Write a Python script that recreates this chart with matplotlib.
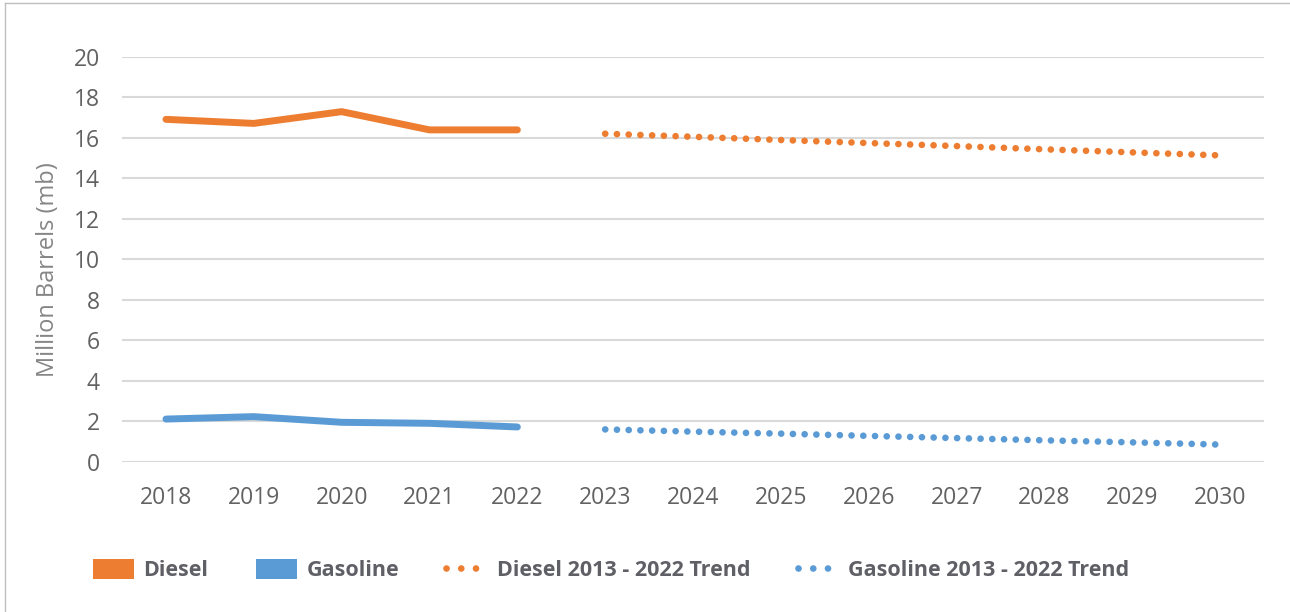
import matplotlib
matplotlib.use("Agg")
import matplotlib.pyplot as plt
from matplotlib.lines import Line2D
from matplotlib.patches import Patch

#data section
years = ["2018", "2019", "2020", "2021", "2022", "2023", "2024",
         "2025", "2026", "2027", "2028", "2029", "2030"]

diesel = [16.92, 16.72, 17.3, 16.4, 16.4]          #actual, 2018-2022
gasoline = [2.12, 2.24, 1.96, 1.91, 1.73]

diesel_trend = [16.21, 16.06, 15.90, 15.75, 15.60, 15.44, 15.29, 15.14]   #2023-2030
gasoline_trend = [1.61, 1.50, 1.40, 1.29, 1.18, 1.07, 0.97, 0.86]

ORANGE = "#ED7D31"
BLUE = "#5B9BD5"

plt.rcParams["font.family"] = ["Open Sans", "DejaVu Sans"]

fig = plt.figure(figsize=(12.9, 6.12), dpi=100)
ax = fig.add_axes([0.0946, 0.2451, 0.8853, 0.6618])

x_actual = list(range(len(diesel)))
x_trend = list(range(len(diesel), len(diesel) + len(diesel_trend)))

#solid lines for the historical values
ax.plot(x_actual, diesel, color=ORANGE, lw=5, solid_capstyle="round", solid_joinstyle="round", zorder=3)
ax.plot(x_actual, gasoline, color=BLUE, lw=5, solid_capstyle="round", solid_joinstyle="round", zorder=3)

#round dots for the trend projection
dots = (0, (0.01, 1.75))
ax.plot(x_trend, diesel_trend, color=ORANGE, lw=4.8, linestyle=dots, dash_capstyle="round", zorder=3)
ax.plot(x_trend, gasoline_trend, color=BLUE, lw=4.8, linestyle=dots, dash_capstyle="round", zorder=3)

ax.set_xlim(-0.5, len(years) - 0.5)
ax.set_ylim(0, 20)
ax.set_xticks(range(len(years)))
ax.set_xticklabels(years)
ax.set_yticks(range(0, 21, 2))

ax.grid(axis="y", color="#d9d9d9", lw=1.5)
ax.set_axisbelow(True)
for side in ["top", "right", "left", "bottom"]:
    ax.spines[side].set_visible(False)

ax.tick_params(axis="both", length=0, labelsize=16.5, labelcolor="#626262")
ax.tick_params(axis="x", pad=17)
ax.tick_params(axis="y", pad=16)
ax.set_ylabel("Million Barrels (mb)", fontsize=17, color="#858585")
ax.yaxis.set_label_coords(-0.054, 0.475)

#legend along the bottom
handles = [
    Patch(facecolor=ORANGE, edgecolor="none"),
    Patch(facecolor=BLUE, edgecolor="none"),
    Line2D([0], [0], color=ORANGE, lw=4.8, linestyle=(0, (0.01, 2.2)), dash_capstyle="round"),
    Line2D([0], [0], color=BLUE, lw=4.8, linestyle=(0, (0.01, 2.2)), dash_capstyle="round"),
]
labels = ["Diesel", "Gasoline", "Diesel 2013 - 2022 Trend", "Gasoline 2013 - 2022 Trend"]
leg = fig.legend(handles, labels, loc="center left", bbox_to_anchor=(0.057, 0.068),
                 ncol=4, frameon=False, handlelength=1.9, handleheight=1.0,
                 handletextpad=0.45, columnspacing=2.2,
                 prop={"size": 15.5, "weight": "bold"})
for t in leg.get_texts():
    t.set_color("#5f5f66")

#thin border on the left and top edges
fig.add_artist(Line2D([0.004, 0.004], [0, 0.995], transform=fig.transFigure, color="#bfbfbf", lw=1))
fig.add_artist(Line2D([0.004, 1], [0.995, 0.995], transform=fig.transFigure, color="#bfbfbf", lw=1))

fig.savefig("out.png", dpi=100, facecolor="white")
